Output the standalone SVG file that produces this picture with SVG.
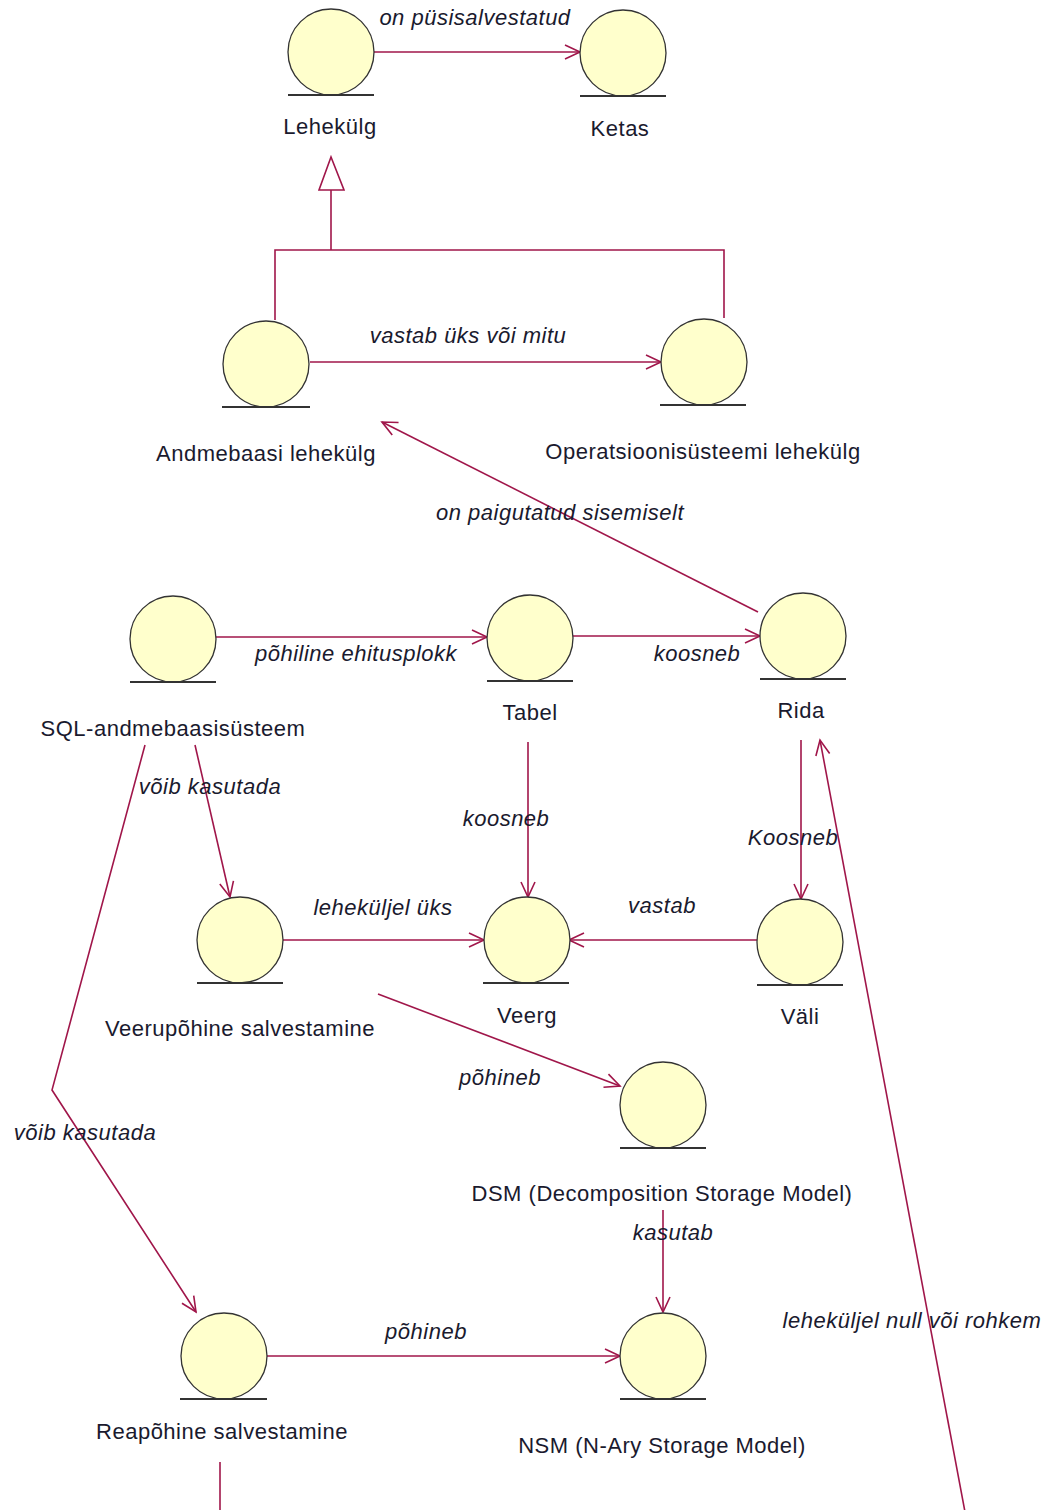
<svg xmlns="http://www.w3.org/2000/svg" width="1050" height="1510" viewBox="0 0 1050 1510">
  <defs>
    <style>
      .bg { fill: #ffffff; }
      .node circle { fill: #ffffcc; stroke: #333333; stroke-width: 1.3; }
      .node line { stroke: #333333; stroke-width: 2; }
      .name { font-family: "Liberation Sans", Arial, sans-serif; font-size: 22px; letter-spacing: 0.5px; fill: #1a1a2e; text-anchor: middle; }
      .edge { fill: none; stroke: #a0164a; stroke-width: 1.6; }
      .arrow { marker-end: url(#open); }
      .role { font-family: "Liberation Sans", Arial, sans-serif; font-size: 22px; font-style: italic; letter-spacing: 0.5px; fill: #1a1a2e; text-anchor: middle; }
    </style>
    <marker id="open" markerUnits="userSpaceOnUse" markerWidth="30" markerHeight="30" refX="16" refY="8" orient="auto" overflow="visible">
      <path d="M 1,1 L 16,8 L 1,15" fill="none" stroke="#a0164a" stroke-width="1.6"/>
    </marker>
  </defs>

  <rect class="bg" x="0" y="0" width="1050" height="1510"/>

  <!-- connectors -->
  <g id="connectors">
    <line class="edge arrow" x1="374" y1="52" x2="580" y2="52"/>
    <!-- generalization -->
    <polyline class="edge" points="275,320 275,250 724,250 724,318"/>
    <line class="edge" x1="331" y1="250" x2="331" y2="190"/>
    <polygon points="331,157 319,190 344,190" fill="#ffffff" stroke="#a0164a" stroke-width="1.6"/>
    <line class="edge arrow" x1="310" y1="362" x2="661" y2="362"/>
    <line class="edge arrow" x1="758" y1="612" x2="382" y2="422"/>
    <line class="edge arrow" x1="216" y1="637" x2="487" y2="637"/>
    <line class="edge arrow" x1="573" y1="636" x2="760" y2="636"/>
    <line class="edge arrow" x1="528" y1="742" x2="528" y2="897"/>
    <line class="edge arrow" x1="801" y1="740" x2="801" y2="899"/>
    <line class="edge arrow" x1="757" y1="940" x2="569" y2="940"/>
    <line class="edge arrow" x1="283" y1="940" x2="484" y2="940"/>
    <line class="edge arrow" x1="195" y1="745" x2="230" y2="897"/>
    <polyline class="edge arrow" points="145,745 52,1090 196,1312"/>
    <line class="edge arrow" x1="378" y1="994" x2="620" y2="1086"/>
    <line class="edge arrow" x1="663" y1="1210" x2="663" y2="1312"/>
    <line class="edge arrow" x1="267" y1="1356" x2="620" y2="1356"/>
    <line class="edge" x1="220" y1="1462" x2="220" y2="1512"/>
    <line class="edge arrow" x1="965" y1="1512" x2="820" y2="740"/>

    <text class="role" x="475" y="25">on püsisalvestatud</text>
    <text class="role" x="468" y="343">vastab üks või mitu</text>
    <text class="role" x="560" y="520">on paigutatud sisemiselt</text>
    <text class="role" x="356" y="661">põhiline ehitusplokk</text>
    <text class="role" x="697" y="661">koosneb</text>
    <text class="role" x="506" y="826">koosneb</text>
    <text class="role" x="793" y="845">Koosneb</text>
    <text class="role" x="662" y="913">vastab</text>
    <text class="role" x="383" y="915">leheküljel üks</text>
    <text class="role" x="210" y="794">võib kasutada</text>
    <text class="role" x="85" y="1140">võib kasutada</text>
    <text class="role" x="500" y="1085">põhineb</text>
    <text class="role" x="673" y="1240">kasutab</text>
    <text class="role" x="426" y="1339">põhineb</text>
    <text class="role" x="912" y="1328">leheküljel null või rohkem</text>
  </g>

  <!-- entity nodes -->
  <g id="lehekulg" class="node">
    <circle cx="331" cy="52" r="43"/>
    <line x1="288" y1="95" x2="374" y2="95"/>
    <text class="name" x="330" y="134">Lehekülg</text>
  </g>
  <g id="ketas" class="node">
    <circle cx="623" cy="53" r="43"/>
    <line x1="580" y1="96" x2="666" y2="96"/>
    <text class="name" x="620" y="136">Ketas</text>
  </g>
  <g id="andmebaasi-lehekulg" class="node">
    <circle cx="266" cy="364" r="43"/>
    <line x1="222" y1="407" x2="310" y2="407"/>
    <text class="name" x="266" y="461">Andmebaasi lehekülg</text>
  </g>
  <g id="os-lehekulg" class="node">
    <circle cx="704" cy="362" r="43"/>
    <line x1="660" y1="405" x2="746" y2="405"/>
    <text class="name" x="703" y="459">Operatsioonisüsteemi lehekülg</text>
  </g>
  <g id="sql-andmebaasisusteem" class="node">
    <circle cx="173" cy="639" r="43"/>
    <line x1="130" y1="682" x2="216" y2="682"/>
    <text class="name" x="173" y="736">SQL-andmebaasisüsteem</text>
  </g>
  <g id="tabel" class="node">
    <circle cx="530" cy="638" r="43"/>
    <line x1="487" y1="681" x2="573" y2="681"/>
    <text class="name" x="530" y="720">Tabel</text>
  </g>
  <g id="rida" class="node">
    <circle cx="803" cy="636" r="43"/>
    <line x1="760" y1="679" x2="846" y2="679"/>
    <text class="name" x="801" y="718">Rida</text>
  </g>
  <g id="veerupohine" class="node">
    <circle cx="240" cy="940" r="43"/>
    <line x1="197" y1="983" x2="283" y2="983"/>
    <text class="name" x="240" y="1036">Veerupõhine salvestamine</text>
  </g>
  <g id="veerg" class="node">
    <circle cx="527" cy="940" r="43"/>
    <line x1="483" y1="983" x2="569" y2="983"/>
    <text class="name" x="527" y="1023">Veerg</text>
  </g>
  <g id="vali" class="node">
    <circle cx="800" cy="942" r="43"/>
    <line x1="757" y1="985" x2="843" y2="985"/>
    <text class="name" x="800" y="1024">Väli</text>
  </g>
  <g id="dsm" class="node">
    <circle cx="663" cy="1105" r="43"/>
    <line x1="620" y1="1148" x2="706" y2="1148"/>
    <text class="name" x="662" y="1201">DSM (Decomposition Storage Model)</text>
  </g>
  <g id="reapohine" class="node">
    <circle cx="224" cy="1356" r="43"/>
    <line x1="180" y1="1399" x2="267" y2="1399"/>
    <text class="name" x="222" y="1439">Reapõhine salvestamine</text>
  </g>
  <g id="nsm" class="node">
    <circle cx="663" cy="1356" r="43"/>
    <line x1="620" y1="1399" x2="706" y2="1399"/>
    <text class="name" x="662" y="1453">NSM (N-Ary Storage Model)</text>
  </g>
</svg>
